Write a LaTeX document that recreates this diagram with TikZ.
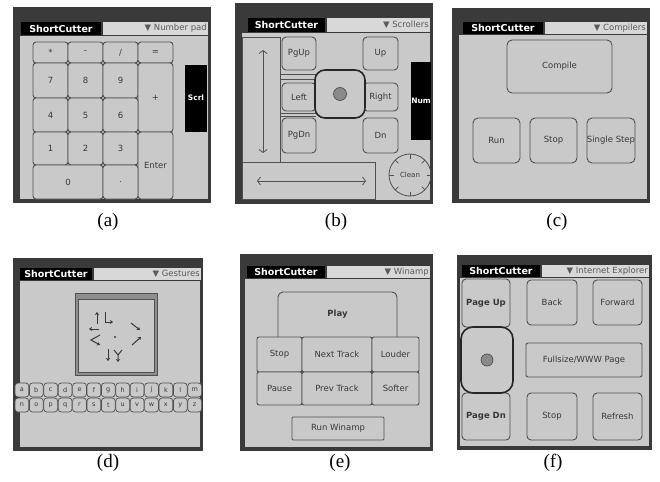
\documentclass[tikz,border=0pt]{standalone}
\usepackage{fontspec}
\setmainfont{Liberation Serif}
\newfontfamily\palmfont{DejaVu Sans}
\usetikzlibrary{calc,arrows.meta}

\definecolor{framegray}{HTML}{3A3A3A}
\definecolor{screengray}{HTML}{C9C9C9}
\definecolor{menugray}{HTML}{D8D8D8}
\definecolor{keyline}{HTML}{505050}
\definecolor{inkgray}{HTML}{383838}
\definecolor{menuink}{HTML}{5A5A5A}
\definecolor{bandgray}{HTML}{8E8E8E}
\definecolor{knobgray}{HTML}{8A8A8A}

\tikzset{
  titletext/.style={text=white,inner sep=0pt,font=\palmfont\bfseries\fontsize{9.5}{10}\selectfont},
  menutext/.style={text=menuink,inner sep=0pt,anchor=east,font=\palmfont\fontsize{8.5}{9}\selectfont},
  key/.style={draw=keyline,fill=screengray,line width=0.9pt,rounded corners=3pt},
  keytext/.style={text=inkgray,inner sep=0pt,font=\palmfont\fontsize{8.5}{9}\selectfont},
  bartext/.style={text=white,inner sep=0pt,font=\palmfont\bfseries\fontsize{7.5}{8}\selectfont},
  outline/.style={draw=keyline,line width=0.8pt},
  scrollarrow/.style={draw=keyline,line width=0.8pt,{Straight Barb[length=3pt,width=8pt]}-{Straight Barb[length=3pt,width=8pt]}},
  gesture/.style={draw=inkgray,line width=1pt,-{Stealth[length=3pt,width=4pt]}},
  icon/.style={draw=keyline,fill=screengray,line width=0.7pt,rounded corners=3pt},
  icontext/.style={text=inkgray,inner sep=0pt,font=\palmfont\fontsize{6.5}{7}\selectfont},
  caption/.style={inner sep=0pt,font=\fontsize{19}{19}\selectfont},
}

% device frame: dark bezel, light screen below the header row
% optional argument: width of the left bezel
\newcommand\palmframe[6][7]{%
  \fill[framegray] (#2,#3) rectangle (#4,#5);
  \fill[screengray] ($(#2,#6)+(#1,0)$) rectangle ($(#4,#5)+(-3,-4)$);}

% header row: black title tab and the pull-down menu
\newcommand\palmheader[7]{%
  \fill[black] (#2,#3) rectangle (#4,#6);
  \node[titletext] (#1title) at ($(#2,#3)!0.5!(#4,#6)$) {ShortCutter};
  \fill[menugray] ($(#4,#3)+(2,0)$) rectangle (#5,#6);
  \node[menutext] (#1menu) at ($(#5,#3)!0.5!(#5,#6)+(-1,0)$) {▼ #7};}

% a button with its caption
\newcommand\keybox[7][]{%
  \draw[key,#1] (#3,#4) rectangle (#5,#6);
  \node[keytext] (#2) at ($(#3,#4)!0.5!(#5,#6)$) {#7};}

\begin{document}
\begin{tikzpicture}[x=1pt,y=-1pt]
\useasboundingbox (0,0) rectangle (660,481);
\fill[white] (0,0) rectangle (660,481);

% ---------- (a) number pad ----------
\palmframe{13}{7}{211}{203}{36}
\palmheader{pa}{21}{22}{101}{208}{35}{Number pad}
\keybox{kastar}{33}{42}{68}{63}{*}
\keybox{kaminus}{68}{42}{103}{63}{-}
\keybox{kaslash}{103}{42}{138}{63}{/}
\keybox{kaequal}{138}{42}{173}{63}{=}
\keybox{kaseven}{33}{63}{68}{98}{7}
\keybox{kaeight}{68}{63}{103}{98}{8}
\keybox{kanine}{103}{63}{138}{98}{9}
\keybox{kaplus}{138}{63}{173}{132}{+}
\keybox{kafour}{33}{98}{68}{132}{4}
\keybox{kafive}{68}{98}{103}{132}{5}
\keybox{kasix}{103}{98}{138}{132}{6}
\keybox{kaone}{33}{132}{68}{165}{1}
\keybox{katwo}{68}{132}{103}{165}{2}
\keybox{kathree}{103}{132}{138}{165}{3}
\keybox{kaenter}{138}{132}{173}{199}{Enter}
\keybox{kazero}{33}{165}{103}{199}{0}
\keybox{kadot}{103}{165}{138}{199}{.}
\fill[black] (185,65) rectangle (207,132);
\node[bartext] (scrl) at (196,98) {Scrl};

% ---------- (b) scrollers ----------
\palmframe{235}{3}{433}{204}{33}
\palmheader{pb}{248}{18}{325}{430}{32}{Scrollers}
\draw[outline] (242,37) rectangle (280,162);
\draw[outline] (242,162) rectangle (375,199);
\coordinate (vtop) at (263,50);
\coordinate (vbot) at (263,153);
\coordinate (hleft) at (257,181);
\coordinate (hright) at (366,181);
\draw[scrollarrow] (vtop) -- (vbot);
\draw[scrollarrow] (hleft) -- (hright);
\draw[keyline,line width=0.6pt] (280,74) -- (316,74) (280,79) -- (316,79)
  (280,113) -- (316,113) (280,116) -- (316,116);
\keybox[rounded corners=4pt]{pgup}{282}{37}{316}{70}{PgUp}
\keybox[rounded corners=4pt]{up}{363}{37}{398}{70}{Up}
\keybox[rounded corners=4pt]{left}{282}{83}{316}{111}{Left}
\keybox[rounded corners=4pt]{right}{363}{83}{398}{111}{Right}
\keybox[rounded corners=4pt]{pgdn}{282}{118}{316}{153}{PgDn}
\keybox[rounded corners=4pt]{dn}{363}{118}{398}{153}{Dn}
\keybox[rounded corners=10pt,line width=1.6pt,draw=black!85]{bpad}{315}{70}{365}{118}{}
\draw[fill=knobgray,draw=keyline,line width=0.7pt] (bpad) circle (6.5);
\fill[black] (411,62) rectangle (431,140);
\node[bartext] (num) at (421,101) {Num};
\draw[outline] (410,175) circle (21);
\foreach \a in {0,45,...,315}
  \draw[keyline,line width=0.7pt] ($(410,175)+(\a:16.5)$) -- ($(410,175)+(\a:21)$);
\node[keytext,font=\palmfont\fontsize{7}{7}\selectfont] (clean) at (410,175) {Clean};

% ---------- (c) compilers ----------
\palmframe{452}{8}{650}{203}{35}
\palmheader{pc}{463}{22}{543}{647}{34}{Compilers}
\keybox[rounded corners=5pt]{compile}{507}{40}{612}{93}{Compile}
\keybox[rounded corners=5pt]{run}{473}{118}{520}{163}{Run}
\keybox[rounded corners=5pt]{cstop}{530}{118}{577}{163}{Stop}
\keybox[rounded corners=5pt]{sstep}{587}{118}{635}{163}{Single Step}

% ---------- (d) gestures ----------
\palmframe{13}{258}{203}{451}{281}
\palmheader{pd}{20}{268}{92}{201}{280}{Gestures}
\fill[bandgray] (75,293) rectangle (157,375);
\draw[keyline,line width=0.6pt] (75,293) rectangle (157,375);
\fill[screengray] (78,299) rectangle (154,372);
\draw[keyline,line width=0.5pt] (78,299) rectangle (154,372);
\fill[inkgray] (115,337) circle (1.2);
\draw[gesture] (97,324) -- (97,312);
\draw[gesture] (105,312) -- (105,322) -- (113,322);
\draw[gesture] (131,323) -- (140,330);
\draw[gesture] (99,329) -- (89,329);
\draw[gesture] (100,335) -- (91,340) -- (100,345);
\draw[gesture] (132,345) -- (141,337);
\draw[gesture] (108,349) -- (108,361);
\draw[gesture] (114,350) -- (118,355) -- (122,350) (118,355) -- (118,362);
\foreach \g [count=\i from 0] in {a,b,c,d,e,f,g,h,i,j,k,l,m}{
  \draw[icon] ({15+\i*14.4},383) rectangle ++(13.8,14);
  \node[icontext] (gtop\i) at ({21.9+\i*14.4},390) {\g};}
\foreach \g [count=\i from 0] in {n,o,p,q,r,s,t,u,v,w,x,y,z}{
  \draw[icon] ({15+\i*14.4},398) rectangle ++(13.8,14);
  \node[icontext] (gbot\i) at ({21.9+\i*14.4},405) {\g};}

% ---------- (e) winamp ----------
\palmframe[5]{240}{254}{433}{451}{279}
\palmheader{pe}{247}{266}{325}{430}{278}{Winamp}
\fill[screengray] (278,337) -- (278,292) -- (397,292) -- (397,337) -- cycle;
\draw[keyline,line width=0.9pt,rounded corners=5pt] (278,337) -- (278,292) -- (397,292) -- (397,337);
\node[keytext] (play) at (337.5,314) {\bfseries Play};
\keybox[rounded corners=2pt]{estop}{257}{337}{302}{372}{Stop}
\keybox[rounded corners=2pt]{next}{302}{337}{372}{372}{Next Track}
\keybox[rounded corners=2pt]{louder}{372}{337}{419}{372}{Louder}
\keybox[rounded corners=2pt]{pause}{257}{372}{302}{405}{Pause}
\keybox[rounded corners=2pt]{prev}{302}{372}{372}{405}{Prev Track}
\keybox[rounded corners=2pt]{softer}{372}{372}{419}{405}{Softer}
\keybox[rounded corners=1pt]{runwinamp}{292}{417}{384}{440}{Run Winamp}

% ---------- (f) internet explorer ----------
\palmframe[3]{457}{255}{652}{450}{278}
\palmheader{pf}{462}{265}{540}{649}{277}{Internet Explorer}
\keybox[rounded corners=4pt]{pageup}{462}{279}{510}{327}{\bfseries Page Up}
\keybox[rounded corners=4pt]{pagedn}{462}{393}{510}{440}{\bfseries Page Dn}
\keybox[rounded corners=4pt]{back}{527}{280}{577}{325}{Back}
\keybox[rounded corners=4pt]{forward}{593}{280}{642}{325}{Forward}
\keybox[rounded corners=12pt,line width=1.6pt,draw=black!85]{fpad}{461}{327}{513}{393}{}
\draw[fill=knobgray,draw=keyline,line width=0.7pt] (fpad) circle (6);
\keybox[rounded corners=2pt]{fullpage}{526}{343}{642}{377}{Fullsize/WWW Page}
\keybox[rounded corners=4pt]{fstop}{527}{393}{577}{440}{Stop}
\keybox[rounded corners=4pt]{refresh}{593}{393}{642}{440}{Refresh}

% ---------- captions ----------
\node[caption] (capa) at (108,222) {(a)};
\node[caption] (capb) at (336,222) {(b)};
\node[caption] (capc) at (557,222) {(c)};
\node[caption] (capd) at (108,463) {(d)};
\node[caption] (cape) at (340,463) {(e)};
\node[caption] (capf) at (553,463) {(f)};
\end{tikzpicture}
\end{document}
